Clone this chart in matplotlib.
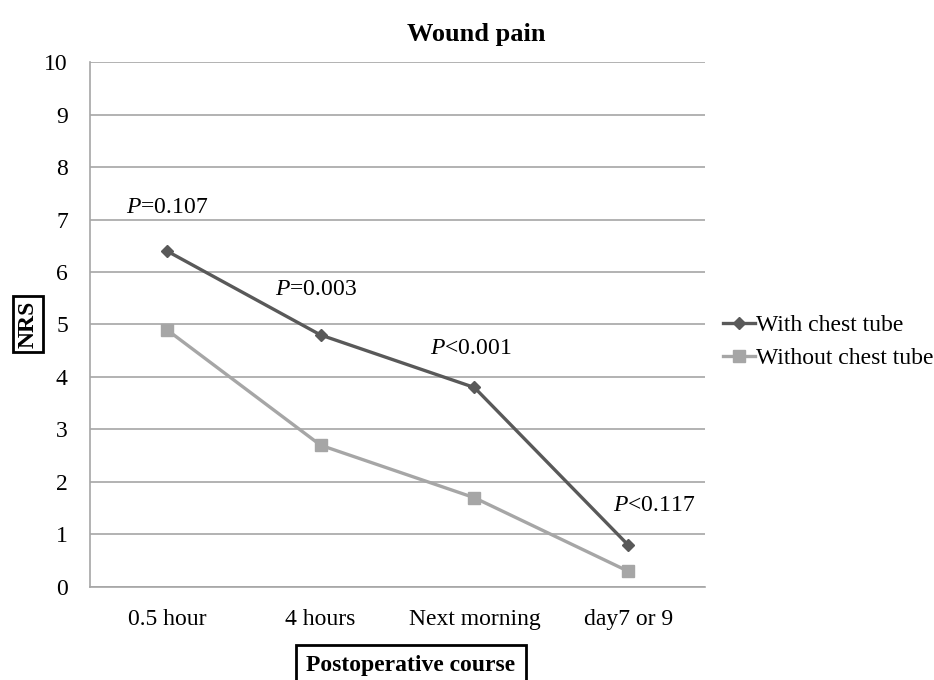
import numpy as np
import matplotlib.pyplot as plt

categories = ['0.5 hour', '4 hours', 'Next morning', 'day7 or 9']
with_tube = [6.4, 4.8, 3.8, 0.8]
without_tube = [4.9, 2.7, 1.7, 0.3]
p_labels = ['=0.107', '=0.003', '<0.001', '<0.117']
p_x = [0.0, 0.97, 1.98, 3.17]
p_heights = [7.22, 5.66, 4.55, 1.56]

plt.rcParams['font.family'] = 'Liberation Serif'
plt.rcParams['mathtext.fontset'] = 'custom'
plt.rcParams['mathtext.rm'] = 'Liberation Serif'
plt.rcParams['mathtext.it'] = 'Liberation Serif:italic'

fig = plt.figure(figsize=(9.34, 6.8), dpi=100)
ax = fig.add_axes([0.0964, 0.1368, 0.6584, 0.772])

x = np.arange(len(categories))
ax.plot(x, with_tube, color='#595959', lw=2.4, marker='D', ms=6.5, label='With chest tube')
ax.plot(x, without_tube, color='#A6A6A6', lw=2.4, marker='s', ms=8.5, label='Without chest tube')

# p-values above each time point
for px, lab, h in zip(p_x, p_labels, p_heights):
    ax.text(px, h, r'$\it{P}$' + lab, ha='center', va='center', fontsize=17)

ax.set_xlim(-0.5, len(categories) - 0.5)
ax.set_ylim(0, 10)
ax.set_yticks(range(0, 11))
ax.set_xticks(x)
ax.set_xticklabels(categories)
ax.tick_params(axis='both', length=0, labelsize=17, colors='black')
ax.tick_params(axis='y', pad=16)
ax.tick_params(axis='x', pad=16)
ax.grid(axis='y', color='#A6A6A6', lw=1.2)
ax.set_axisbelow(True)
for s in ['top', 'right']:
    ax.spines[s].set_visible(False)
for s in ['left', 'bottom']:
    ax.spines[s].set_color('#A6A6A6')
    ax.spines[s].set_linewidth(1.2)

fig.text(0.51, 1 - 34 / 680, 'Wound pain', ha='center', va='center', fontsize=19, fontweight='bold')
fig.text(28 / 934, 1 - 324 / 680, 'NRS', rotation=90, ha='center', va='center', fontsize=17,
         fontweight='bold', bbox=dict(boxstyle='square,pad=0.2', fc='white', ec='black', lw=2))
fig.text(411 / 934, 1 - 666 / 680, 'Postoperative course', ha='center', va='center', fontsize=17,
         fontweight='bold', bbox=dict(boxstyle='square,pad=0.45', fc='white', ec='black', lw=2))

ax.legend(loc='center left', bbox_to_anchor=(1.029, 0.467), frameon=False, fontsize=17,
          handlelength=1.35, handletextpad=0.05, labelspacing=0.48, borderaxespad=0, borderpad=0)

fig.savefig('out.png', dpi=100)
